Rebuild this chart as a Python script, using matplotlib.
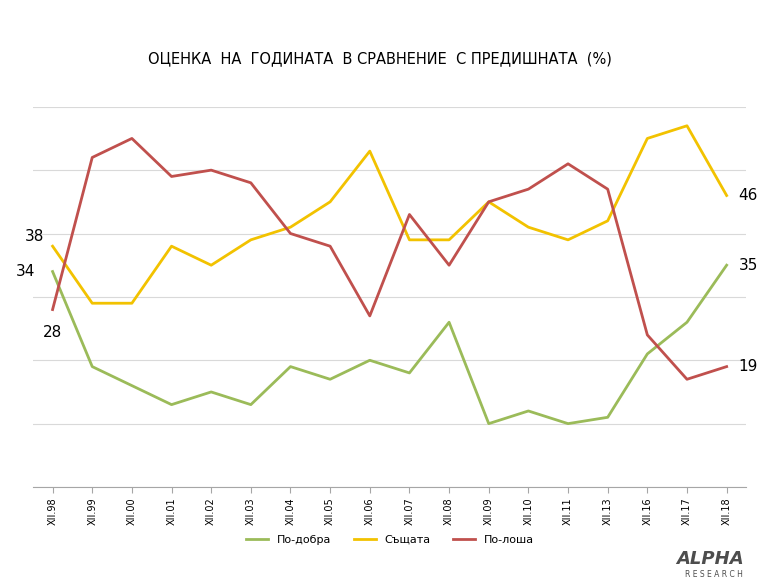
import matplotlib
matplotlib.use("Agg")
import matplotlib.pyplot as plt

categories = ["XII.98", "XII.99", "XII.00", "XII.01", "XII.02", "XII.03", "XII.04", "XII.05",
              "XII.06", "XII.07", "XII.08", "XII.09", "XII.10", "XII.11", "XII.13", "XII.16",
              "XII.17", "XII.18"]
better = [34, 19, 16, 13, 15, 13, 19, 17, 20, 18, 26, 10, 12, 10, 11, 21, 26, 35]
same = [38, 29, 29, 38, 35, 39, 41, 45, 53, 39, 39, 45, 41, 39, 42, 55, 57, 46]
worse = [28, 52, 55, 49, 50, 48, 40, 38, 27, 43, 35, 45, 47, 51, 47, 24, 17, 19]

c_green = "#9bbb59"
c_yellow = "#f2c200"
c_red = "#c0504d"

fig = plt.figure(figsize=(7.8, 5.85), dpi=100)
ax = fig.add_axes([0.042, 0.1675, 0.915, 0.65])
x = range(len(categories))
ax.plot(x, better, color=c_green, lw=2, label="По-добра")
ax.plot(x, same, color=c_yellow, lw=2, label="Същата")
ax.plot(x, worse, color=c_red, lw=2, label="По-лоша")

ax.set_xlim(-0.5, len(categories) - 0.5)
ax.set_ylim(0, 60)
ax.set_yticks(range(0, 61, 10))
ax.yaxis.grid(True, color="#d9d9d9", lw=0.8)
ax.set_axisbelow(True)
ax.tick_params(axis="y", left=False, labelleft=False)
for s in ["top", "right", "left"]:
    ax.spines[s].set_visible(False)
ax.spines["bottom"].set_color("#a6a6a6")
ax.set_xticks(list(x))
ax.set_xticklabels(categories, rotation=90, fontsize=7)
ax.tick_params(axis="x", length=4, color="#a6a6a6")

# подписи крайних точек
ax.text(-0.2, same[0] + 0.3, str(same[0]), ha="right", va="bottom", fontsize=11)
ax.text(-0.45, better[0], str(better[0]), ha="right", va="center", fontsize=11)
ax.text(0, worse[0] - 2.5, str(worse[0]), ha="center", va="top", fontsize=11)
last = len(categories) - 1
for vals in (same, better, worse):
    ax.text(last + 0.3, vals[-1], str(vals[-1]), ha="left", va="center", fontsize=11)

fig.text(0.487, 0.9, "ОЦЕНКА  НА  ГОДИНАТА  В СРАВНЕНИЕ  С ПРЕДИШНАТА  (%)",
         ha="center", va="center", fontsize=10.5)
fig.legend(loc="center", bbox_to_anchor=(0.5, 0.077), ncol=3, frameon=False, fontsize=8)

fig.text(0.91, 0.045, "ALPHA", ha="center", va="center", fontsize=13, fontweight="bold",
         color="#4d4d4d", style="italic")
fig.text(0.915, 0.018, "R E S E A R C H", ha="center", va="center", fontsize=5.5, color="#4d4d4d")

fig.savefig("out.png", dpi=100)
